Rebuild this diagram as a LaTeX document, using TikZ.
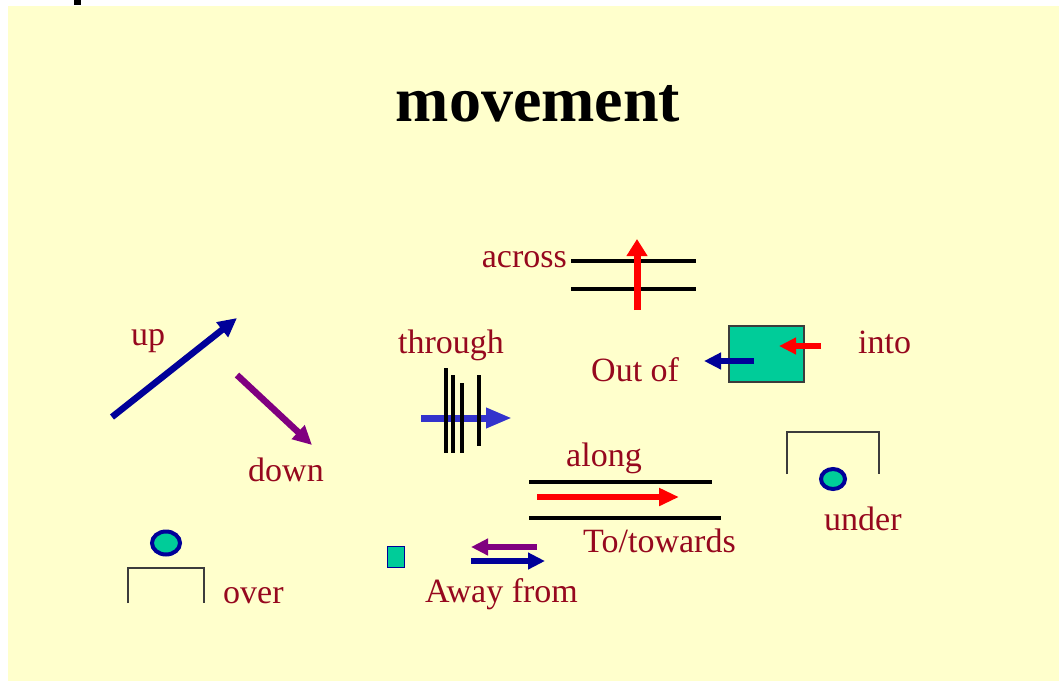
\documentclass[tikz,border=0pt]{standalone}
\usepackage{fontspec}
\setmainfont{Liberation Serif}
\usetikzlibrary{arrows.meta,shapes.geometric}
\definecolor{bgyellow}{RGB}{255,255,204}
\definecolor{labelred}{RGB}{150,8,30}
\definecolor{navy}{RGB}{0,0,153}
\definecolor{purp}{RGB}{128,0,128}
\definecolor{teal2}{RGB}{0,204,153}
\definecolor{midblue}{RGB}{51,51,204}
\definecolor{boxgray}{RGB}{60,60,60}
\tikzset{
  lbl/.style={font=\fontsize{34}{40}\selectfont, text=labelred, inner sep=0pt, anchor=base west},
  bar/.style={line width=3.5pt, black},
  fat/.style={line width=6.5pt, -{Triangle[length=19pt,width=18pt]}},
  bracket/.style={line width=1.5pt, boxgray},
  ball/.style={draw=navy, line width=4pt, fill=teal2},
}
\begin{document}
\begin{tikzpicture}[x=1pt,y=-1pt]
\useasboundingbox (0,0) rectangle (1059,681);
\fill[white] (0,0) rectangle (1059,681);
\fill[bgyellow] (8,6) rectangle (1059,681);
\fill[black] (74,0) rectangle (81,5);

% title
\node[font=\fontsize{64}{70}\selectfont\bfseries, inner sep=0pt, anchor=base] (title) at (538,121) {movement};

% up / down
\node[lbl] (lup) at (131,345) {up};
\coordinate (upA) at (112,417);
\coordinate (upB) at (237,318);
\draw[fat, navy] (upA) -- (upB);
\coordinate (dnA) at (237,375);
\coordinate (dnB) at (312,445);
\draw[fat, purp] (dnA) -- (dnB);
\node[lbl] (ldown) at (248,481) {down};

% across
\node[lbl, anchor=base east] (lacross) at (567,267) {across};
\coordinate (ac1a) at (571,261); \coordinate (ac1b) at (696,261);
\coordinate (ac2a) at (571,289); \coordinate (ac2b) at (696,289);
\draw[bar] (ac1a) -- (ac1b);
\draw[bar] (ac2a) -- (ac2b);
\coordinate (acA) at (637,310);
\coordinate (acB) at (637,239);
\draw[line width=7pt, red, -{Triangle[length=17pt,width=20pt]}] (acA) -- (acB);

% through
\node[lbl] (lthrough) at (398,353) {through};
\coordinate (thA) at (421,418);
\coordinate (thB) at (512,418);
\draw[line width=7pt, midblue, -{Triangle[length=26pt,width=19pt]}] (thA) -- (thB);
\coordinate (t1a) at (446,368); \coordinate (t1b) at (446,453);
\coordinate (t2a) at (453,375); \coordinate (t2b) at (453,453);
\coordinate (t3a) at (462,383); \coordinate (t3b) at (462,453);
\coordinate (t4a) at (479,375); \coordinate (t4b) at (479,446);
\draw[bar, line width=4pt] (t1a) -- (t1b);
\draw[bar, line width=4pt] (t2a) -- (t2b);
\draw[bar, line width=4pt] (t3a) -- (t3b);
\draw[bar, line width=4pt] (t4a) -- (t4b);

% out of / into
\node[lbl] (loutof) at (591,381) {Out of};
\node[draw=boxgray, line width=1.2pt, fill=teal2, minimum width=75pt, minimum height=56pt, inner sep=0pt] (box) at (766.5,354) {};
\coordinate (outA) at (754,361);
\coordinate (outB) at (704,361);
\draw[line width=6pt, navy, -{Triangle[length=17pt,width=16pt]}] (outA) -- (outB);
\coordinate (inA) at (821,346);
\coordinate (inB) at (779,346);
\draw[line width=6pt, red, -{Triangle[length=17pt,width=16pt]}] (inA) -- (inB);
\node[lbl] (linto) at (858,353) {into};

% along / to-towards
\node[lbl] (lalong) at (566,466) {along};
\coordinate (al1a) at (529,482); \coordinate (al1b) at (712,482);
\coordinate (al2a) at (529,518); \coordinate (al2b) at (721,518);
\draw[bar, line width=4pt] (al1a) -- (al1b);
\draw[bar, line width=4pt] (al2a) -- (al2b);
\coordinate (alA) at (537,497);
\coordinate (alB) at (679,497);
\draw[line width=6pt, red, -{Triangle[length=20pt,width=17pt]}] (alA) -- (alB);
\node[lbl] (ltowards) at (583,552) {To/towards};

% under
\coordinate (u1) at (787,474); \coordinate (u2) at (787,432);
\coordinate (u3) at (879,432); \coordinate (u4) at (879,474);
\draw[bracket] (u1) -- (u2) -- (u3) -- (u4);
\node[ball, ellipse, minimum width=24pt, minimum height=20pt, inner sep=0pt] (uball) at (833,479) {};
\node[lbl] (lunder) at (824,530) {under};

% over
\node[ball, ellipse, minimum width=28pt, minimum height=23pt, inner sep=0pt] (oball) at (166,543) {};
\coordinate (o1) at (128,603); \coordinate (o2) at (128,568);
\coordinate (o3) at (204,568); \coordinate (o4) at (204,603);
\draw[bracket] (o1) -- (o2) -- (o3) -- (o4);
\node[lbl] (lover) at (223,603) {over};

% away from
\node[draw=navy, line width=1.2pt, fill=teal2, minimum width=17pt, minimum height=21pt, inner sep=0pt] (smallbox) at (396,557) {};
\coordinate (awA) at (537,547);
\coordinate (awB) at (471,547);
\draw[line width=6pt, purp, -{Triangle[length=17pt,width=16pt]}] (awA) -- (awB);
\coordinate (twA) at (471,561);
\coordinate (twB) at (545,561);
\draw[line width=6pt, navy, -{Triangle[length=17pt,width=16pt]}] (twA) -- (twB);
\node[lbl] (laway) at (425,602) {Away from};
\end{tikzpicture}
\end{document}
